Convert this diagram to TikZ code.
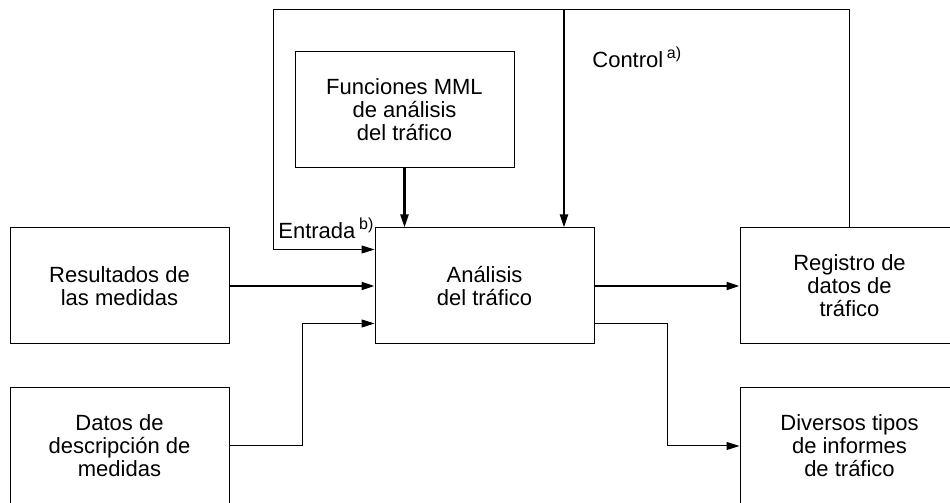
\documentclass[tikz,border=0pt]{standalone}
\usepackage{fontspec}
\setmainfont{Liberation Sans}
\usetikzlibrary{calc,arrows.meta}

\newcommand{\nota}[1]{\,\raisebox{0.85ex}{\fontsize{8}{8}\selectfont #1}}

\begin{document}
\begin{tikzpicture}[x=0.5pt,y=0.5pt,
    box/.style={draw,line width=0.5pt,minimum width=109.5pt,minimum height=58pt,
        align=center,font=\fontsize{11}{11.5}\selectfont,inner sep=0pt},
    lbl/.style={anchor=base west,inner sep=0pt,font=\fontsize{11}{11.5}\selectfont},
    lin/.style={line width=0.5pt},
    heavy/.style={line width=1.1pt},
    tip/.style={-{Triangle[length=6.5pt,width=4pt]}}]
    \clip (0,0) rectangle (950,503);

    \node[box] (res) at (119.5,217) {Resultados de\\las medidas};
    \node[box] (datos) at (119.5,57) {Datos de\\descripción de\\medidas};
    \node[box] (analisis) at (484.5,217) {Análisis\\del tráfico};
    \node[box] (funciones) at (404.5,393) {Funciones MML\\de análisis\\del tráfico};
    \node[box] (registro) at (849.5,217) {Registro de\\datos de\\tráfico};
    \node[box] (diversos) at (849.5,57) {Diversos tipos\\de informes\\de tráfico};

    \node[lbl] (entrada) at (278,264) {Entrada\nota{b)}};
    \node[lbl] (control) at (592,435) {Control\nota{a)}};

    \coordinate (topL) at (273,493);
    \coordinate (topR) at (registro.north |- topL);
    \coordinate (ctl) at (564,493);
    \coordinate (inE) at ($(analisis.north west)+(0,-22)$);
    \coordinate (inD) at ($(analisis.south west)+(0,21)$);
    \coordinate (outD) at ($(analisis.south east)+(0,21)$);
    \coordinate (bendD) at (302,57);
    \coordinate (bendR) at (667,57);

    % lazo de realimentacion
    \draw[lin,tip] (registro.north) -- (topR) -- (topL) |- (inE);

    \draw[heavy,tip] (ctl) -- (ctl |- analisis.north);
    \draw[heavy,tip] (funciones) -- (funciones |- analisis.north);
    \draw[heavy,tip] (res) -- (analisis);
    \draw[heavy,tip] (analisis) -- (registro);

    \draw[lin,tip] (datos.east) -- (bendD) |- (inD);
    \draw[lin,tip] (outD) -| (bendR) -- (diversos.west);
\end{tikzpicture}
\end{document}
